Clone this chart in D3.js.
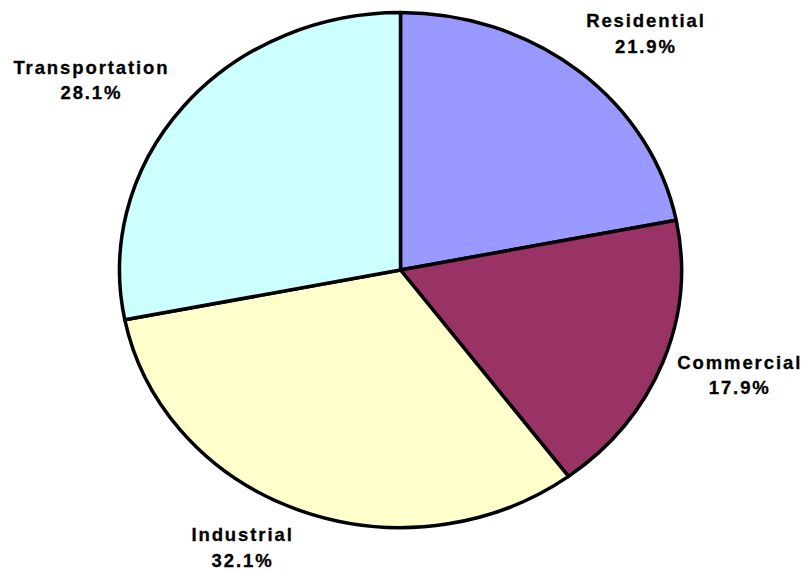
<!DOCTYPE html>
<html>
<head>
<meta charset="utf-8">
<script src="https://cdn.jsdelivr.net/npm/d3@7"></script>
<style>
  html, body { margin: 0; padding: 0; background: #fff; }
  svg { display: block; }
  text { font-family: "Liberation Sans", Arial, sans-serif; font-weight: bold; fill: #000; }
</style>
</head>
<body>
<svg id="chart" width="806" height="571"></svg>
<script>
// ---- data ----
const categories = ["Residential", "Commercial", "Industrial", "Transportation"];
const values = [21.9, 17.9, 32.1, 28.1];
const colors = ["#9999FF", "#993366", "#FFFFCC", "#CCFFFF"];

// ---- layout ----
const W = 806, H = 571;
const cx = 400.5, cy = 270, rx = 281, ry = 257.5;
const R = 100; // unit radius, scaled to the ellipse
// label nudges from the slice mid-angle point on the ellipse
const labelNudge = [[67, -44], [77, 6], [-57, 31], [-92, -33]];

const svg = d3.select("#chart");
const g = svg.append("g").attr("transform", `translate(${cx},${cy})`);

const data = categories.map((c, i) => ({ name: c, value: values[i], color: colors[i] }));
const pie = d3.pie().value(d => d.value).sort(null);
const arcs = pie(data);
const arc = d3.arc().innerRadius(0).outerRadius(R);

const pg = g.append("g").attr("transform", `scale(${rx / R},${ry / R})`);
pg.selectAll("path")
  .data(arcs)
  .enter().append("path")
  .attr("d", arc)
  .attr("fill", d => d.data.color)
  .attr("stroke", "#000")
  .attr("stroke-width", 3.5)
  .attr("stroke-linejoin", "round")
  .attr("vector-effect", "non-scaling-stroke");

// labels
const fmt = d3.format(".1f");
arcs.forEach((a, i) => {
  const mid = (a.startAngle + a.endAngle) / 2;
  const px = rx * Math.sin(mid), py = -ry * Math.cos(mid);
  const x = px + labelNudge[i][0], y = py + labelNudge[i][1];
  const t = g.append("text")
    .attr("text-anchor", "middle")
    .attr("font-size", 18.5)
    .attr("letter-spacing", 1.9)
    .attr("stroke", "#000")
    .attr("stroke-width", 0.3)
    .attr("x", x).attr("y", y);
  t.append("tspan").attr("x", x).attr("dy", 0).text(a.data.name);
  t.append("tspan").attr("x", x).attr("dy", 25.5).text(fmt(a.data.value) + "%");
});
</script>
</body>
</html>
